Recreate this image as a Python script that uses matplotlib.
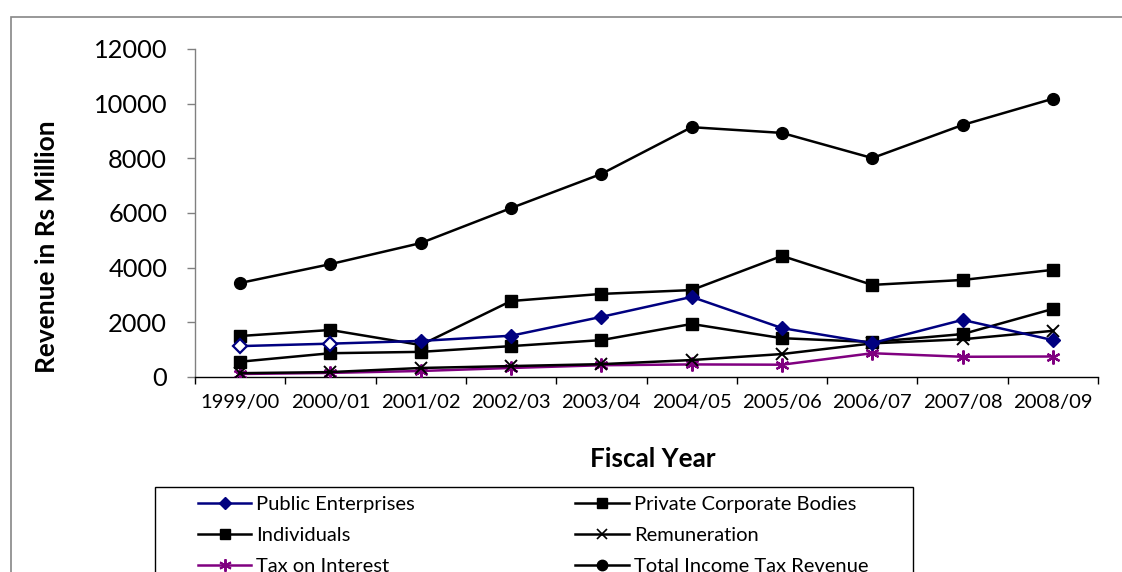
import matplotlib
matplotlib.use('Agg')
import matplotlib.pyplot as plt
import matplotlib.patches as mpatches
from matplotlib.lines import Line2D

plt.rcParams['font.family'] = ['Lato', 'DejaVu Sans']

years = ['1999/00', '2000/01', '2001/02', '2002/03', '2003/04',
         '2004/05', '2005/06', '2006/07', '2007/08', '2008/09']

public_enterprises = [1130, 1220, 1320, 1510, 2200, 2930, 1790, 1240, 2090, 1350]
private_corporate = [1500, 1720, 1170, 2780, 3040, 3180, 4430, 3370, 3550, 3920]
individuals = [560, 870, 920, 1130, 1350, 1940, 1420, 1280, 1570, 2490]
remuneration = [140, 180, 330, 400, 470, 620, 840, 1230, 1380, 1690]
tax_on_interest = [110, 150, 220, 330, 430, 460, 450, 870, 740, 750]
total_revenue = [3440, 4130, 4900, 6180, 7430, 9140, 8930, 8010, 9220, 10180]

NAVY = '#000080'
PURPLE = '#800080'
BLACK = '#000000'
STAR = (6, 2, 0)

W, H = 1122, 572
fig = plt.figure(figsize=(W / 100, H / 100), dpi=100)
fig.patch.set_facecolor('white')


def fx(px):
    return px / W


def fy(py):
    return 1 - py / H


ax = fig.add_axes([fx(195), fy(377), fx(1098) - fx(195), fy(49) - fy(377)])
x = list(range(len(years)))

# lines first, markers on top
ax.plot(x, tax_on_interest, color=PURPLE, lw=1.8, marker=STAR, ms=10,
        mew=1.6, zorder=3)
ax.plot(x, remuneration, color=BLACK, lw=1.8, marker='x', ms=8.5, mew=1.4,
        zorder=3)
ax.plot(x, individuals, color=BLACK, lw=1.8, marker='s', ms=8.5, zorder=3)
ax.plot(x, private_corporate, color=BLACK, lw=1.8, marker='s', ms=8.5,
        zorder=3)
ax.plot(x, public_enterprises, color=NAVY, lw=1.8, marker='D', ms=7,
        markevery=list(range(2, len(x))), zorder=4)
# first two years shown with open markers
ax.plot(x[:2], public_enterprises[:2], ls='none', marker='D', ms=7,
        mfc='white', mec=NAVY, mew=1.6, zorder=5)
ax.plot(x, total_revenue, color=BLACK, lw=1.8, marker='o', ms=8.5, zorder=3)

ax.set_xlim(-0.5, len(years) - 0.5)
ax.set_ylim(0, 12000)
ax.set_yticks(range(0, 12001, 2000))
ax.set_yticklabels([str(v) for v in range(0, 12001, 2000)], fontsize=18.3)
ax.set_xticks([i - 0.5 for i in range(len(years) + 1)])
ax.set_xticklabels([])
ax.set_xticks(x, minor=True)
ax.set_xticklabels(years, minor=True, fontsize=14.6)
ax.tick_params(axis='x', which='major', direction='out', length=5,
               width=1, color=BLACK)
ax.tick_params(axis='x', which='minor', length=0, pad=12)
ax.tick_params(axis='y', direction='out', length=6, width=1,
               color='#808080', pad=14)

for s in ('top', 'right'):
    ax.spines[s].set_visible(False)
ax.spines['left'].set_color('#808080')
ax.spines['bottom'].set_color(BLACK)
ax.spines['left'].set_linewidth(1)
ax.spines['bottom'].set_linewidth(1)

fig.text(fx(47), fy(247), 'Revenue in Rs Million', rotation=90,
         ha='center', va='center', fontsize=19, fontweight='bold')
fig.text(fx(653), fy(459), 'Fiscal Year', ha='center', va='center',
         fontsize=18.8, fontweight='bold')

# chart border and legend frame run past the bottom edge
fig.add_artist(mpatches.Rectangle((fx(11), -0.2), 1.2, fy(17) + 0.2,
                                  transform=fig.transFigure, fill=False,
                                  edgecolor='#868686', lw=1.2))
fig.add_artist(mpatches.Rectangle((fx(155), -0.2), fx(913) - fx(155),
                                  fy(487) + 0.2, transform=fig.transFigure,
                                  fill=False, edgecolor=BLACK, lw=1))

handles = [
    Line2D([], [], color=NAVY, lw=1.8, marker='D', ms=6.5),
    Line2D([], [], color=BLACK, lw=1.8, marker='s', ms=7.5),
    Line2D([], [], color=PURPLE, lw=1.8, marker=STAR, ms=9, mew=1.4),
    Line2D([], [], color=BLACK, lw=1.8, marker='s', ms=7.5),
    Line2D([], [], color=BLACK, lw=1.8, marker='x', ms=7.5, mew=1.2),
    Line2D([], [], color=BLACK, lw=1.8, marker='o', ms=7.5),
]
labels = ['Public Enterprises', 'Individuals', 'Tax on Interest',
          'Private Corporate Bodies', 'Remuneration',
          'Total Income Tax Revenue']
fig.legend(handles, labels, loc='upper left', ncol=2, frameon=False,
           bbox_to_anchor=(fx(198), fy(496)), borderpad=0, borderaxespad=0,
           fontsize=14.5, handlelength=2.65, handletextpad=0.25,
           columnspacing=7.95, labelspacing=0.68)

fig.savefig('out.png', dpi=100)
